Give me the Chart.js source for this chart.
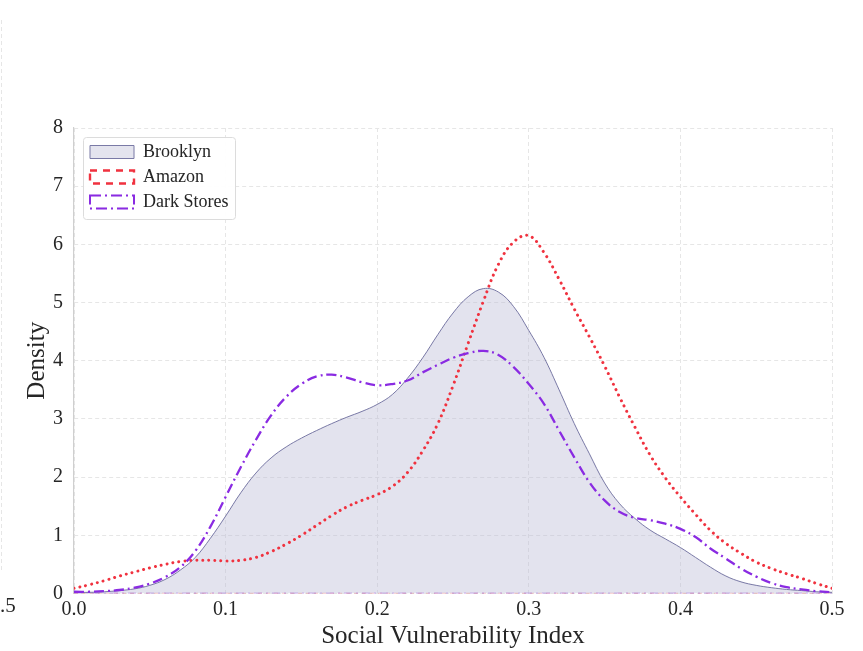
<!DOCTYPE html>
<html>
<head>
<meta charset="utf-8">
<script src="https://cdn.jsdelivr.net/npm/chart.js@4"></script>
<style>
  html, body { margin: 0; padding: 0; background: #fff; }
  #wrap { width: 863px; height: 651px; }
</style>
</head>
<body>
<div id="wrap"><canvas id="myChart" width="863" height="651"></canvas></div>
<script>
// x grid of the density curves (Social Vulnerability Index)
const sviValues = [
  0.00, 0.01, 0.02, 0.03, 0.04, 0.05, 0.06, 0.07, 0.08, 0.09,
  0.10, 0.11, 0.12, 0.13, 0.14, 0.15, 0.16, 0.17, 0.18, 0.19,
  0.20, 0.21, 0.22, 0.23, 0.24, 0.25, 0.26, 0.27, 0.28, 0.29,
  0.30, 0.31, 0.32, 0.33, 0.34, 0.35, 0.36, 0.37, 0.38, 0.39,
  0.40, 0.41, 0.42, 0.43, 0.44, 0.45, 0.46, 0.47, 0.48, 0.49, 0.50
];
const brooklynDensity = [
  0.02, 0.02, 0.03, 0.05, 0.08, 0.14, 0.24, 0.40, 0.62, 0.95,
  1.33, 1.73, 2.07, 2.33, 2.52, 2.67, 2.80, 2.92, 3.03, 3.13,
  3.25, 3.42, 3.70, 4.05, 4.45, 4.82, 5.10, 5.24, 5.18, 4.93,
  4.52, 4.06, 3.50, 2.92, 2.40, 1.90, 1.54, 1.29, 1.09, 0.94,
  0.79, 0.62, 0.45, 0.30, 0.20, 0.14, 0.10, 0.07, 0.05, 0.03, 0.02
];
const amazonDensity = [
  0.09, 0.15, 0.22, 0.30, 0.37, 0.44, 0.50, 0.55, 0.57, 0.57,
  0.56, 0.57, 0.62, 0.72, 0.85, 1.00, 1.17, 1.34, 1.49, 1.60,
  1.70, 1.84, 2.08, 2.45, 2.92, 3.57, 4.30, 5.02, 5.66, 6.04,
  6.15, 5.86, 5.40, 4.89, 4.41, 3.91, 3.37, 2.86, 2.38, 1.99,
  1.66, 1.36, 1.08, 0.86, 0.69, 0.54, 0.43, 0.34, 0.26, 0.17, 0.09
];
const darkStoreDensity = [
  0.03, 0.03, 0.04, 0.06, 0.10, 0.17, 0.28, 0.45, 0.73, 1.15,
  1.66, 2.17, 2.64, 3.06, 3.38, 3.60, 3.73, 3.76, 3.71, 3.63,
  3.58, 3.60, 3.66, 3.80, 3.93, 4.05, 4.13, 4.17, 4.10, 3.89,
  3.60, 3.26, 2.80, 2.34, 1.91, 1.60, 1.40, 1.30, 1.26, 1.20,
  1.11, 0.97, 0.77, 0.60, 0.43, 0.29, 0.18, 0.11, 0.07, 0.04, 0.02
];
const baselineX = [0.0, 0.5];
const baselineY = [0, 0];
const xTicks = [0.0, 0.1, 0.2, 0.3, 0.4, 0.5];
const yTicks = [0, 1, 2, 3, 4, 5, 6, 7, 8];

const toPoints = (xs, ys) => ys.map((y, i) => ({ x: xs[i], y: y }));
const SERIF = '"Liberation Serif", "DejaVu Serif", serif';

// legend frame + leftover fragment of the neighbouring panel
const framePlugin = {
    id: 'framePlugin',
    afterLayout(chart) {
        const lg = chart.legend;
        const w = lg.width;
        lg.left = 83; lg.right = 83 + w;
        lg.top = 136; lg.bottom = 136 + 300;
    },
    afterDraw(chart) {
        const ctx = chart.ctx;
        ctx.save();
        ctx.beginPath();
        ctx.roundRect(83.5, 137.5, 152, 82, 3);
        ctx.fillStyle = 'rgba(255,255,255,0.96)';
        ctx.fill();
        ctx.strokeStyle = '#dcdcdc';
        ctx.lineWidth = 1;
        ctx.stroke();
        ctx.restore();
        chart.legend.draw();

        // cut-off panel on the left
        ctx.save();
        ctx.strokeStyle = '#e6e6e6';
        ctx.setLineDash([4, 3]);
        ctx.beginPath();
        ctx.moveTo(1.5, 20);
        ctx.lineTo(1.5, 570);
        ctx.stroke();
        ctx.setLineDash([]);
        ctx.fillStyle = '#262626';
        ctx.font = '21px ' + SERIF;
        ctx.textBaseline = 'middle';
        ctx.fillText('.5', 0, 606);
        ctx.restore();
    }
};

const config = {
    type: 'line',
    data: {
        datasets: [{
            label: 'Brooklyn',
            data: toPoints(sviValues, brooklynDensity),
            fill: 'origin',
            backgroundColor: 'rgba(185,185,212,0.40)',
            borderColor: '#6b6b9c',
            borderWidth: 0.9,
            tension: 0.4,
            pointRadius: 0,
            order: 3
        }, {
            label: 'Amazon',
            data: toPoints(sviValues, amazonDensity),
            fill: false,
            borderColor: '#f0323f',
            backgroundColor: 'rgba(0,0,0,0)',
            borderWidth: 3,
            borderDash: [0.01, 6],
            borderCapStyle: 'round',
            tension: 0.4,
            pointRadius: 0,
            order: 2
        }, {
            label: 'Dark Stores',
            data: toPoints(sviValues, darkStoreDensity),
            fill: false,
            borderColor: '#8a2be2',
            backgroundColor: 'rgba(0,0,0,0)',
            borderWidth: 2.3,
            borderDash: [10, 4, 2, 4],
            tension: 0.4,
            pointRadius: 0,
            order: 1
        }, {
            label: 'amazon-base',
            data: toPoints(baselineX, baselineY),
            fill: false,
            borderColor: 'rgba(240,80,90,0.45)',
            borderWidth: 1.6,
            borderDash: [4, 4],
            pointRadius: 0,
            order: 5
        }, {
            label: 'dark-base',
            data: toPoints(baselineX, baselineY),
            fill: false,
            borderColor: 'rgba(150,70,220,0.5)',
            borderWidth: 1.8,
            borderDash: [8, 4, 2, 4],
            pointRadius: 0,
            order: 4
        }]
    },
    options: {
        responsive: false,
        animation: false,
        layout: {
            padding: { top: 128, right: 31, left: 22, bottom: 0 }
        },
        plugins: {
            title: { display: false },
            tooltip: { enabled: false },
            legend: {
                display: true,
                position: 'chartArea',
                align: 'start',
                labels: {
                    boxWidth: 44,
                    boxHeight: 13,
                    padding: 7,
                    color: '#262626',
                    font: { family: SERIF, size: 18 },
                    generateLabels(chart) {
                        const dashes = [[], [7, 6], [11, 4, 2, 4]];
                        const fills = ['#e4e4ee', 'rgba(0,0,0,0)', 'rgba(0,0,0,0)'];
                        const strokes = ['#7a7aa6', '#f0323f', '#8a2be2'];
                        const widths = [1, 2.4, 2];
                        return chart.data.datasets.slice(0, 3).map((ds, i) => ({
                            text: ds.label,
                            fillStyle: fills[i],
                            strokeStyle: strokes[i],
                            lineWidth: widths[i],
                            lineDash: dashes[i],
                            fontColor: '#262626',
                            hidden: false,
                            datasetIndex: i
                        }));
                    }
                }
            }
        },
        scales: {
            x: {
                type: 'linear',
                min: 0,
                max: 0.5,
                afterBuildTicks: s => { s.ticks = xTicks.map(v => ({ value: v })); },
                afterFit: s => { s.height = 57.5; },
                ticks: {
                    color: '#262626',
                    font: { family: SERIF, size: 20 },
                    padding: 4,
                    maxRotation: 0,
                    callback: v => v.toFixed(1)
                },
                grid: {
                    color: '#e6e6e6',
                    lineWidth: 1,
                    drawTicks: false
                },
                border: {
                    display: false,
                    dash: [4, 3]
                },
                title: {
                    display: true,
                    text: 'Social Vulnerability Index',
                    color: '#262626',
                    font: { family: SERIF, size: 25 },
                    padding: { top: 0, bottom: 0 }
                }
            },
            y: {
                min: 0,
                max: 8,
                afterBuildTicks: s => { s.ticks = yTicks.map(v => ({ value: v })); },
                afterFit: s => { s.width = 52; },
                ticks: {
                    color: '#262626',
                    font: { family: SERIF, size: 20 },
                    padding: 11
                },
                grid: {
                    color: '#e6e6e6',
                    lineWidth: 1,
                    drawTicks: false
                },
                border: {
                    color: '#cfcfcf',
                    width: 1.2,
                    dash: [4, 3]
                },
                title: {
                    display: true,
                    text: 'Density',
                    color: '#262626',
                    font: { family: SERIF, size: 25 },
                    padding: { top: 0, bottom: 0 }
                }
            }
        }
    },
    plugins: [framePlugin]
};

var ctx = document.getElementById('myChart').getContext('2d');
var myChart = new Chart(ctx, config);
</script>
</body>
</html>
